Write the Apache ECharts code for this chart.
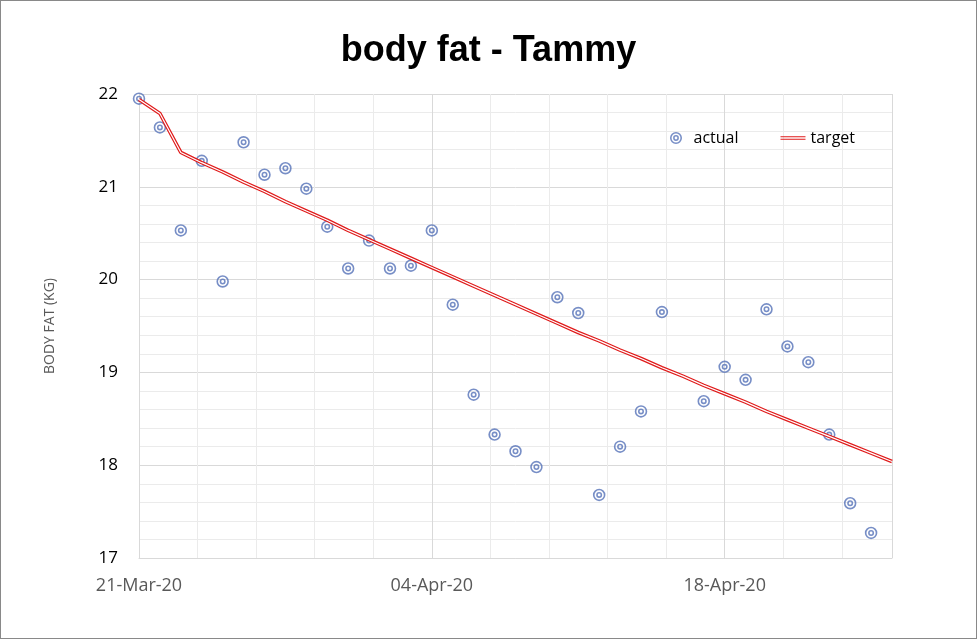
<!DOCTYPE html>
<html>
<head>
    <meta charset="UTF-8">
    <title>body fat - Tammy</title>
    <script src="https://cdn.jsdelivr.net/npm/echarts@6/dist/echarts.min.js"></script>
    <style>
        html, body { margin: 0; padding: 0; background: #fff; }
        #chart { width: 975px; height: 637px; border: 1px solid #898989; }
    </style>
</head>
<body>
<div id="chart"></div>
<script>
    // dates and readings
    var startDate = '2020-03-21';
    var endDate = '2020-04-26';

    var actualDates = [
        '2020-03-21', '2020-03-22', '2020-03-23', '2020-03-24', '2020-03-25', '2020-03-26',
        '2020-03-27', '2020-03-28', '2020-03-29', '2020-03-30', '2020-03-31', '2020-04-01',
        '2020-04-02', '2020-04-03', '2020-04-04', '2020-04-05', '2020-04-06', '2020-04-07',
        '2020-04-08', '2020-04-09', '2020-04-10', '2020-04-11', '2020-04-12', '2020-04-13',
        '2020-04-14', '2020-04-15', '2020-04-17', '2020-04-18', '2020-04-19', '2020-04-20',
        '2020-04-21', '2020-04-22', '2020-04-23', '2020-04-24', '2020-04-25'
    ];
    var actualValues = [
        21.95, 21.64, 20.53, 21.28, 19.98, 21.48,
        21.13, 21.20, 20.98, 20.57, 20.12, 20.42,
        20.12, 20.15, 20.53, 19.73, 18.76, 18.33,
        18.15, 17.98, 19.81, 19.64, 17.68, 18.20,
        18.58, 19.65, 18.69, 19.06, 18.92, 19.68,
        19.28, 19.11, 18.33, 17.59, 17.27
    ];

    var targetDates = [
        '2020-03-21', '2020-03-22', '2020-03-23', '2020-03-24', '2020-03-25', '2020-03-26',
        '2020-03-27', '2020-03-28', '2020-03-29', '2020-03-30', '2020-03-31', '2020-04-01',
        '2020-04-02', '2020-04-03', '2020-04-04', '2020-04-05', '2020-04-06', '2020-04-07',
        '2020-04-08', '2020-04-09', '2020-04-10', '2020-04-11', '2020-04-12', '2020-04-13',
        '2020-04-14', '2020-04-15', '2020-04-16', '2020-04-17', '2020-04-18', '2020-04-19',
        '2020-04-20', '2020-04-21', '2020-04-22', '2020-04-23', '2020-04-24', '2020-04-25',
        '2020-04-26'
    ];
    var targetValues = [
        21.94, 21.79, 21.37, 21.26, 21.16, 21.05,
        20.95, 20.84, 20.74, 20.64, 20.53, 20.43,
        20.33, 20.23, 20.13, 20.03, 19.93, 19.83,
        19.73, 19.63, 19.53, 19.43, 19.34, 19.24,
        19.15, 19.05, 18.96, 18.86, 18.77, 18.68,
        18.58, 18.49, 18.40, 18.31, 18.22, 18.13,
        18.04
    ];

    var months = ['Jan', 'Feb', 'Mar', 'Apr', 'May', 'Jun', 'Jul', 'Aug', 'Sep', 'Oct', 'Nov', 'Dec'];
    var DAY = 86400000;

    // x axis runs in days from the start date, so the 14 day steps start at 0
    function dayOf(s) {
        return (Date.parse(s) - Date.parse(startDate)) / DAY;
    }
    function pad(n) {
        return n < 10 ? '0' + n : '' + n;
    }
    function dateLabel(d) {
        var t = new Date(Date.parse(startDate) + d * DAY);
        return pad(t.getUTCDate()) + '-' + months[t.getUTCMonth()] + '-' + pad(t.getUTCFullYear() % 100);
    }

    var actualData = actualDates.map(function (s, i) { return [dayOf(s), actualValues[i]]; });
    var targetData = targetDates.map(function (s, i) { return [dayOf(s), targetValues[i]]; });

    // two rings, inner circles wound the other way so they stay hollow
    var ring = 'path://M0,-10A10,10 0 1,1 0,10A10,10 0 1,1 0,-10Z' +
        'M0,-7.4A7.4,7.4 0 1,0 0,7.4A7.4,7.4 0 1,0 0,-7.4Z' +
        'M0,-4.8A4.8,4.8 0 1,1 0,4.8A4.8,4.8 0 1,1 0,-4.8Z' +
        'M0,-2.3A2.3,2.3 0 1,0 0,2.3A2.3,2.3 0 1,0 0,-2.3Z';
    var doubleLine = 'path://M0,0H30V1.3H0ZM0,3H30V4.3H0Z';

    var blue = '#5572b8';
    var red = '#e01b1b';

    var chart = echarts.init(document.getElementById('chart'));
    var option = {
        animation: false,
        textStyle: { fontFamily: 'Open Sans' },
        title: {
            text: 'body fat - Tammy',
            left: 'center',
            top: 27,
            textStyle: { fontFamily: 'Liberation Sans', fontSize: 36, fontWeight: 'bold', color: '#000' }
        },
        legend: {
            data: [
                { name: 'actual', icon: ring },
                { name: 'target', icon: doubleLine }
            ],
            left: 664,
            top: 124,
            itemWidth: 25,
            itemHeight: 12,
            itemGap: 42,
            textStyle: { fontFamily: 'Open Sans', fontSize: 16, color: '#000' }
        },
        grid: { left: 138, right: 84, top: 93, bottom: 80 },
        xAxis: {
            type: 'value',
            min: 0,
            max: dayOf(endDate),
            interval: 14,
            axisLine: { lineStyle: { color: '#d9d9d9' } },
            axisTick: { show: false },
            axisLabel: {
                color: '#595959',
                fontSize: 18,
                margin: 19,
                showMaxLabel: false,
                formatter: function (v) { return v % 14 === 0 ? dateLabel(v) : ''; }
            },
            splitLine: { lineStyle: { color: '#d9d9d9' } },
            minorTick: { show: false, splitNumber: 5 },
            minorSplitLine: { show: true, lineStyle: { color: '#ebebeb' } }
        },
        yAxis: {
            type: 'value',
            min: 17,
            max: 22,
            interval: 1,
            name: 'BODY FAT (KG)',
            nameLocation: 'middle',
            nameRotate: 90,
            nameGap: 82,
            nameTextStyle: { color: '#595959', fontSize: 14 },
            axisLine: { show: true, lineStyle: { color: '#d9d9d9' } },
            axisTick: { show: false },
            axisLabel: { color: '#000', fontSize: 17, margin: 21 },
            splitLine: { lineStyle: { color: '#d9d9d9' } },
            minorTick: { show: false, splitNumber: 5 },
            minorSplitLine: { show: true, lineStyle: { color: '#ebebeb' } }
        },
        series: [
            {
                name: 'actual',
                type: 'scatter',
                symbol: ring,
                symbolSize: 12.5,
                itemStyle: { color: blue },
                data: actualData,
                z: 3
            },
            {
                name: 'target',
                type: 'line',
                showSymbol: false,
                symbol: 'none',
                itemStyle: { color: red },
                lineStyle: { color: red, width: 3.6 },
                data: targetData,
                z: 4
            },
            {
                name: 'target inner',
                type: 'line',
                showSymbol: false,
                symbol: 'none',
                silent: true,
                lineStyle: { color: '#fff', width: 1.2 },
                data: targetData,
                z: 5
            }
        ]
    };
    chart.setOption(option);
</script>
</body>
</html>
